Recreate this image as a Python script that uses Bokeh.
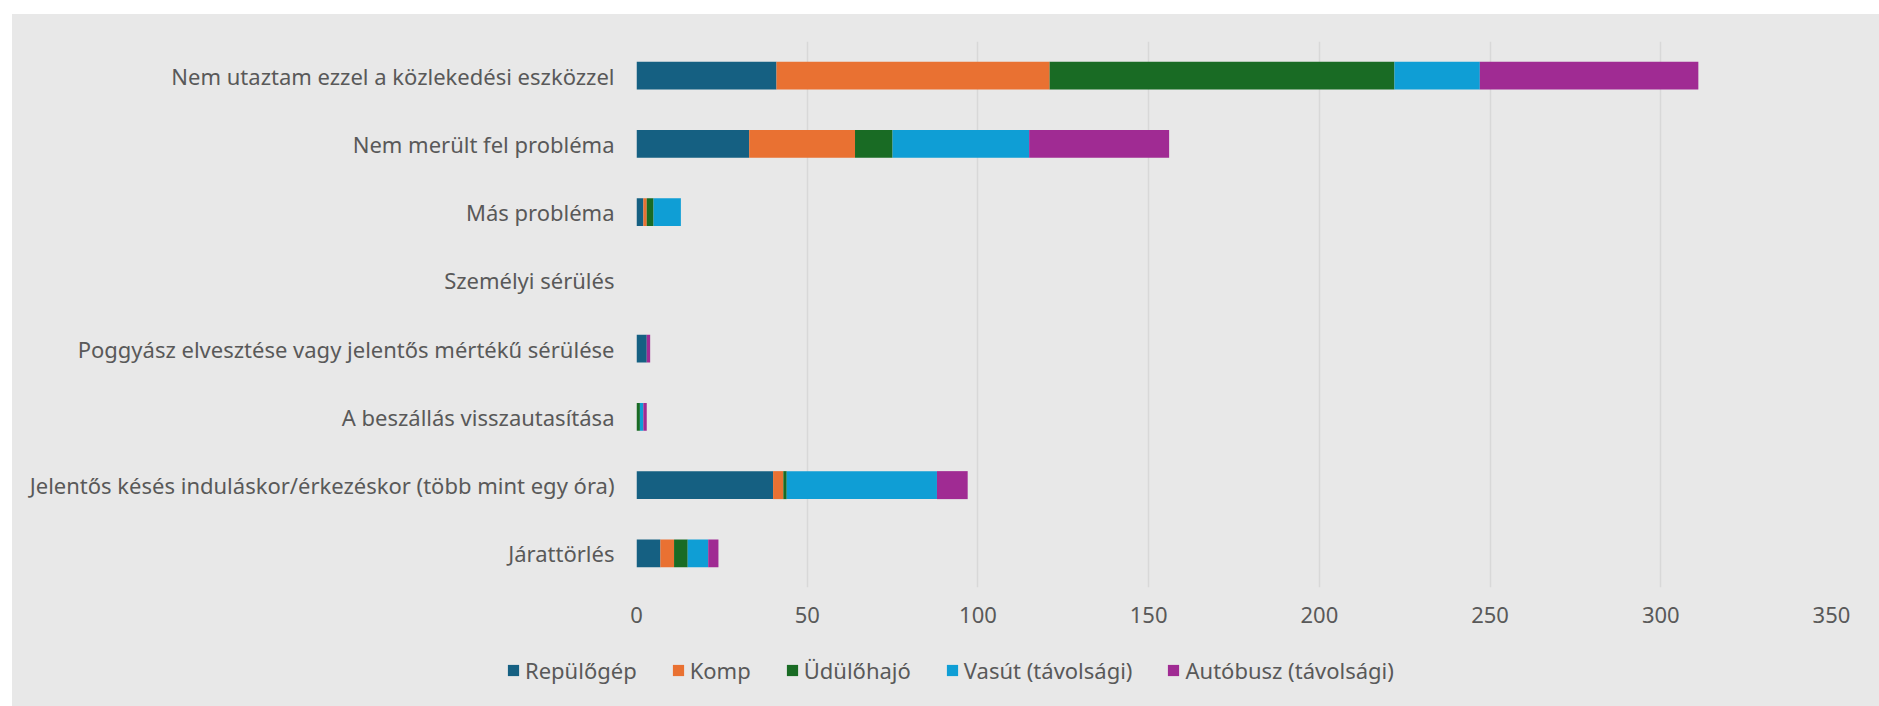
from bokeh.plotting import figure
from bokeh.layouts import column
from bokeh.models import ColumnDataSource, FactorRange, Legend, LegendItem
from bokeh.embed import file_html
from bokeh.resources import INLINE

categories = [
    "Nem utaztam ezzel a közlekedési eszközzel",
    "Nem merült fel probléma",
    "Más probléma",
    "Személyi sérülés",
    "Poggyász elvesztése vagy jelentős mértékű sérülése",
    "A beszállás visszautasítása",
    "Jelentős késés induláskor/érkezéskor (több mint egy óra)",
    "Járattörlés",
]
series_names = ["Repülőgép", "Komp", "Üdülőhajó", "Vasút (távolsági)", "Autóbusz (távolsági)"]
repulogep = [41, 33, 2, 0, 3, 0, 40, 7]
komp = [80, 31, 1, 0, 0, 0, 3, 4]
udulohajo = [101, 11, 2, 0, 0, 1, 1, 4]
vasut = [25, 40, 8, 0, 0, 1, 44, 6]
autobusz = [64, 41, 0, 0, 1, 1, 9, 3]
colors = ["#156082", "#E97132", "#196B24", "#0F9ED5", "#A02B93"]
x_ticks = [0, 50, 100, 150, 200, 250, 300, 350]

keys = ["s0", "s1", "s2", "s3", "s4"]
source = ColumnDataSource(dict(cat=categories, s0=repulogep, s1=komp, s2=udulohajo, s3=vasut, s4=autobusz))

BG = "#E8E8E8"
TXT = "#595959"
FONT = "Noto Sans"

p = figure(
    width=1867, height=630,
    y_range=FactorRange(*list(reversed(categories))),
    x_range=(0, 350),
    output_backend="svg", toolbar_location=None,
    min_border_left=624, min_border_right=48, min_border_top=27, min_border_bottom=57,
    background_fill_color=BG, border_fill_color=BG,
)
p.outline_line_color = None

renderers = p.hbar_stack(keys, y="cat", height=0.41, color=colors, source=source, line_width=0)

p.xaxis.ticker = x_ticks
p.xaxis.axis_line_color = None
p.xaxis.major_tick_line_color = None
p.xaxis.minor_tick_line_color = None
p.xaxis.major_label_text_font = FONT
p.xaxis.major_label_text_font_size = "22px"
p.xaxis.major_label_text_color = TXT
p.xaxis.major_label_standoff = 13

p.yaxis.axis_line_color = None
p.yaxis.major_tick_line_color = None
p.yaxis.minor_tick_line_color = None
p.yaxis.major_label_text_font = FONT
p.yaxis.major_label_text_font_size = "22px"
p.yaxis.major_label_text_color = TXT
p.yaxis.major_label_standoff = 16

p.ygrid.grid_line_color = None
p.xgrid.grid_line_color = "#D8D8D8"
p.xgrid.grid_line_width = 1.5

# legend strip below the chart (its own stacked renderers lie outside its visible range)
lg = figure(
    width=1867, height=62, x_range=(-2, -1), y_range=FactorRange(*categories),
    x_axis_type=None, y_axis_type=None,
    output_backend="svg", toolbar_location=None,
    min_border_left=0, min_border_right=0, min_border_top=0, min_border_bottom=0,
    background_fill_color=BG, border_fill_color=BG,
)
lg.frame_align = False
lg.outline_line_color = None
lg.xgrid.visible = False
lg.ygrid.visible = False
proxies = lg.hbar_stack(keys, y="cat", height=0.41, color=colors, source=source, line_width=0)

legend = Legend(
    items=[LegendItem(label=n, renderers=[r]) for n, r in zip(series_names, proxies)],
    orientation="horizontal",
    location=(494, 21),
    glyph_width=14, glyph_height=14,
    label_standoff=5, spacing=34,
    padding=0, margin=0,
    border_line_alpha=0, background_fill_alpha=0,
    label_text_font=FONT, label_text_font_size="22px", label_text_color=TXT,
)
lg.add_layout(legend, "center")

layout = column(p, lg, spacing=0)
layout.margin = (14, 0, 0, 12)
layout.styles = {"background-color": BG}

open("out.html", "w").write(file_html(layout, INLINE))
